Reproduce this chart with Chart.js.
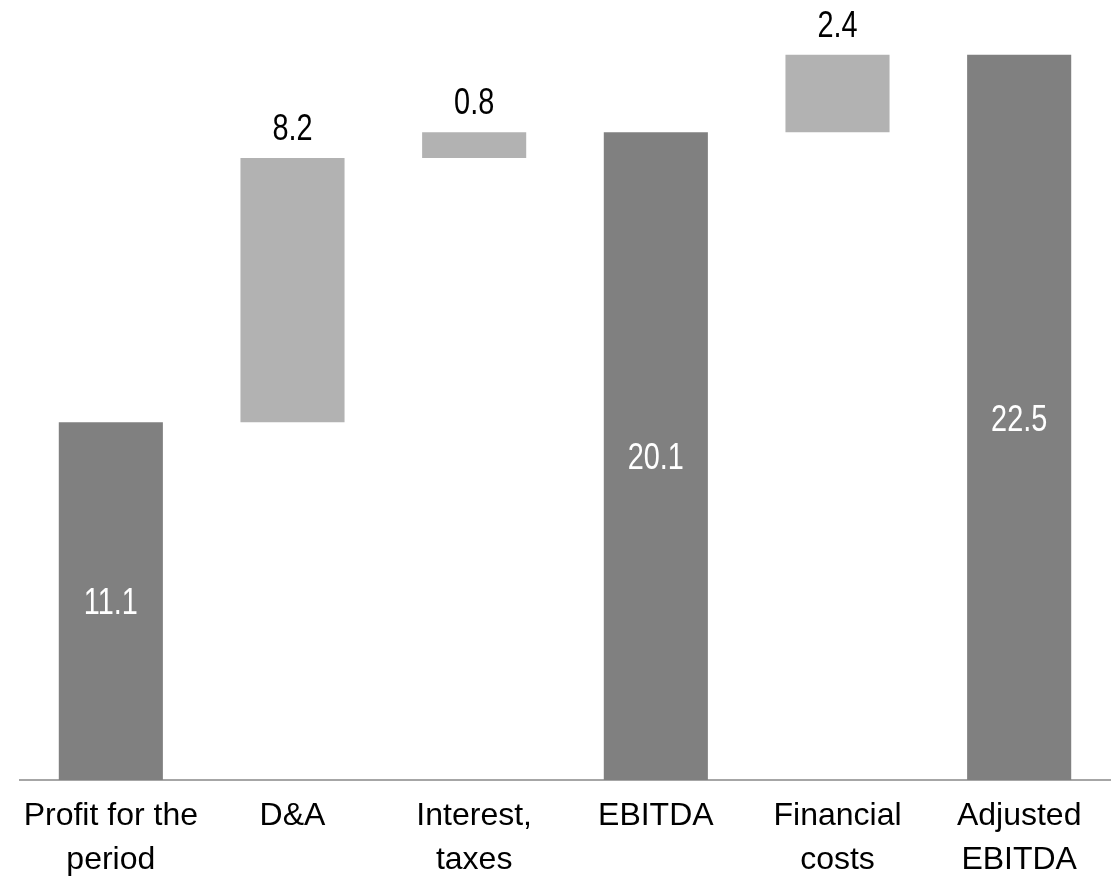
<!DOCTYPE html>
<html>
<head>
<meta charset="utf-8">
<script src="https://cdn.jsdelivr.net/npm/chart.js@4"></script>
<style>
  html, body { margin: 0; padding: 0; background: #fff; }
  #wrap { width: 1112px; height: 886px; }
</style>
</head>
<body>
<div id="wrap"><canvas id="bridgeChart"></canvas></div>
<script>
const categories = [['Profit for the', 'period'], 'D&A', ['Interest,', 'taxes'], 'EBITDA', ['Financial', 'costs'], ['Adjusted', 'EBITDA']];
const values = [11.1, 8.2, 0.8, 20.1, 2.4, 22.5];
const isTotal = [true, false, false, true, false, true];

const FONT = "'Liberation Sans', Arial, sans-serif";

// floating ranges for the bridge
let running = 0;
const ranges = values.map((v, i) => {
  if (isTotal[i]) { running = v; return [0, v]; }
  const r = [running, running + v];
  running += v;
  return r;
});
const colors = isTotal.map(t => t ? '#808080' : '#b2b2b2');

// value labels, squeezed a bit to look like the narrow face in the original
const valueLabels = {
  id: 'valueLabels',
  afterDatasetsDraw(chart) {
    const ctx = chart.ctx;
    const meta = chart.getDatasetMeta(0);
    meta.data.forEach((bar, i) => {
      const p = bar.getProps(['x', 'y', 'base'], true);
      const top = Math.min(p.y, p.base);
      const bottom = Math.max(p.y, p.base);
      let ty;
      ctx.save();
      ctx.font = '37px ' + FONT;
      ctx.textAlign = 'center';
      if (isTotal[i]) {
        ctx.fillStyle = '#ffffff';
        ctx.textBaseline = 'middle';
        ty = (top + bottom) / 2 + 3;
      } else {
        ctx.fillStyle = '#000000';
        ctx.textBaseline = 'alphabetic';
        ty = top - 18;
      }
      ctx.translate(p.x, ty);
      ctx.scale(0.78, 1);
      ctx.fillText(values[i].toFixed(1), 0, 0);
      ctx.restore();
    });
  }
};

const ctx = document.getElementById('bridgeChart').getContext('2d');
new Chart(ctx, {
  type: 'bar',
  data: {
    labels: categories,
    datasets: [{
      data: ranges,
      backgroundColor: colors,
      borderWidth: 0,
      borderSkipped: false,
      barPercentage: 0.573,
      categoryPercentage: 1.0
    }]
  },
  options: {
    responsive: true,
    maintainAspectRatio: false,
    animation: false,
    layout: { padding: { left: 20, right: 2, top: 0, bottom: 0 } },
    plugins: {
      legend: { display: false },
      tooltip: { enabled: false }
    },
    scales: {
      y: {
        display: false,
        min: 0,
        max: 24.2
      },
      x: {
        grid: { display: false },
        border: { display: true, color: '#a6a6a6', width: 2 },
        ticks: {
          color: '#000000',
          font: { family: FONT, size: 32, lineHeight: 1.38 },
          padding: 6,
          maxRotation: 0,
          minRotation: 0
        },
        afterFit(scale) { scale.height = 106; }
      }
    }
  },
  plugins: [valueLabels]
});
</script>
</body>
</html>
